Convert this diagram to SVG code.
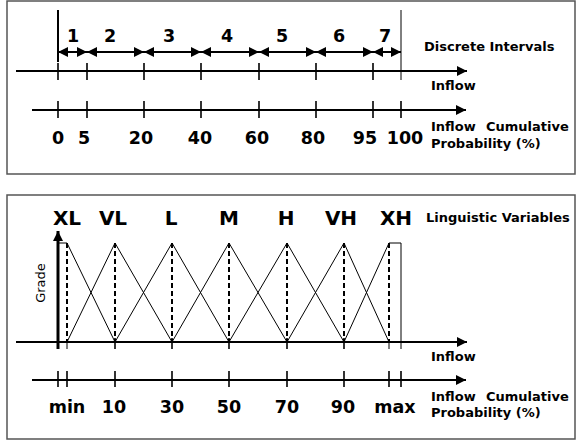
<svg xmlns="http://www.w3.org/2000/svg" width="577" height="442" viewBox="0 0 577 442">
  <style>
    .panel { fill: #fff; stroke: #555; stroke-width: 1.5; }
    .axis { stroke: #000; stroke-width: 2; fill: none; }
    .tick { stroke: #000; stroke-width: 1.6; }
    .thin { stroke: #000; stroke-width: 1; fill: none; }
    .dash { stroke: #000; stroke-width: 2; stroke-dasharray: 5 3; }
    .num { font-family: "DejaVu Sans", Verdana, sans-serif; font-weight: bold; font-size: 17.5px; text-anchor: middle; fill: #000; }
    .big { font-family: "DejaVu Sans", Verdana, sans-serif; font-weight: bold; font-size: 20px; text-anchor: middle; fill: #000; }
    .lbl { font-family: "DejaVu Sans", Verdana, sans-serif; font-weight: bold; font-size: 13px; fill: #000; }
    .grade { font-family: "DejaVu Sans", Verdana, sans-serif; font-size: 13px; text-anchor: middle; fill: #000; }
  </style>
  <defs>
    <marker id="head" viewBox="0 0 10 10" refX="10" refY="5" markerWidth="10" markerHeight="10" markerUnits="userSpaceOnUse" orient="auto-start-reverse">
      <path d="M0,0 L10,5 L0,10 Z" fill="#000"/>
    </marker>
    <marker id="ahead" viewBox="0 0 10 10" refX="10" refY="5" markerWidth="12" markerHeight="10" markerUnits="userSpaceOnUse" orient="auto">
      <path d="M0,0 L10,5 L0,10 Z" fill="#000"/>
    </marker>
  </defs>

  <!-- Upper panel: discrete intervals -->
  <g id="panel-intervals">
    <rect class="panel" x="7" y="1" width="568" height="173"/>
  </g>

  <g id="intervals-connectors">
    <!-- interval bounds -->
    <line class="axis" x1="58" y1="10" x2="58" y2="62"/>
    <line class="thin" x1="401" y1="10" x2="401" y2="80"/>
    <!-- double-headed interval arrows -->
    <line class="axis" x1="58" y1="52" x2="87" y2="52" marker-start="url(#head)" marker-end="url(#head)"/>
    <line class="axis" x1="87" y1="52" x2="144" y2="52" marker-start="url(#head)" marker-end="url(#head)"/>
    <line class="axis" x1="144" y1="52" x2="201" y2="52" marker-start="url(#head)" marker-end="url(#head)"/>
    <line class="axis" x1="201" y1="52" x2="259" y2="52" marker-start="url(#head)" marker-end="url(#head)"/>
    <line class="axis" x1="259" y1="52" x2="316" y2="52" marker-start="url(#head)" marker-end="url(#head)"/>
    <line class="axis" x1="316" y1="52" x2="373" y2="52" marker-start="url(#head)" marker-end="url(#head)"/>
    <line class="axis" x1="373" y1="52" x2="401" y2="52" marker-start="url(#head)" marker-end="url(#head)"/>
    <!-- inflow axis -->
    <line class="axis" x1="16" y1="71" x2="467" y2="71" marker-end="url(#ahead)"/>
    <g class="tick">
      <line x1="58" y1="63" x2="58" y2="80"/>
      <line x1="87" y1="63" x2="87" y2="80"/>
      <line x1="144" y1="63" x2="144" y2="80"/>
      <line x1="201" y1="63" x2="201" y2="80"/>
      <line x1="259" y1="63" x2="259" y2="80"/>
      <line x1="316" y1="63" x2="316" y2="80"/>
      <line x1="373" y1="63" x2="373" y2="80"/>
    </g>
    <!-- cumulative probability axis -->
    <line class="axis" x1="32" y1="110" x2="466" y2="110" marker-end="url(#ahead)"/>
    <g class="tick">
      <line x1="58" y1="101" x2="58" y2="118"/>
      <line x1="87" y1="101" x2="87" y2="118"/>
      <line x1="144" y1="101" x2="144" y2="118"/>
      <line x1="201" y1="101" x2="201" y2="118"/>
      <line x1="259" y1="101" x2="259" y2="118"/>
      <line x1="316" y1="101" x2="316" y2="118"/>
      <line x1="373" y1="101" x2="373" y2="118"/>
      <line x1="401" y1="101" x2="401" y2="118"/>
    </g>
  </g>

  <g id="intervals-text">
    <text class="num" x="73" y="42">1</text>
    <text class="num" x="110" y="42">2</text>
    <text class="num" x="169" y="42">3</text>
    <text class="num" x="227" y="42">4</text>
    <text class="num" x="282" y="42">5</text>
    <text class="num" x="339" y="42">6</text>
    <text class="num" x="385" y="42">7</text>
    <text class="lbl" x="424" y="51">Discrete Intervals</text>
    <text class="lbl" x="431" y="90">Inflow</text>
    <text class="lbl" x="431" y="131">Inflow<tspan x="486">Cumulative</tspan></text>
    <text class="lbl" x="431" y="148">Probability (%)</text>
    <text class="num" x="58" y="144">0</text>
    <text class="num" x="84" y="144">5</text>
    <text class="num" x="141" y="144">20</text>
    <text class="num" x="200" y="144">40</text>
    <text class="num" x="257" y="144">60</text>
    <text class="num" x="313" y="144">80</text>
    <text class="num" x="365" y="144">95</text>
    <text class="num" x="405" y="144">100</text>
  </g>

  <!-- Lower panel: fuzzy linguistic variables -->
  <g id="panel-fuzzy">
    <rect class="panel" x="7" y="195" width="568" height="244"/>
  </g>

  <g id="fuzzy-connectors">
    <!-- membership functions -->
    <polyline class="thin" points="58,243 67,243 115,342"/>
    <polyline class="thin" points="67,342 115,243 172,342"/>
    <polyline class="thin" points="115,342 172,243 229,342"/>
    <polyline class="thin" points="172,342 229,243 287,342"/>
    <polyline class="thin" points="229,342 287,243 344,342"/>
    <polyline class="thin" points="287,342 344,243 389,342"/>
    <polyline class="thin" points="344,342 389,243 401,243 401,349"/>
    <line class="thin" x1="67" y1="342" x2="67" y2="349"/>
    <line class="thin" x1="389" y1="342" x2="389" y2="349"/>
    <!-- peak markers -->
    <g class="dash">
      <line x1="67" y1="243" x2="67" y2="342"/>
      <line x1="115" y1="243" x2="115" y2="342"/>
      <line x1="172" y1="243" x2="172" y2="342"/>
      <line x1="229" y1="243" x2="229" y2="342"/>
      <line x1="287" y1="243" x2="287" y2="342"/>
      <line x1="344" y1="243" x2="344" y2="342"/>
      <line x1="389" y1="243" x2="389" y2="342"/>
    </g>
    <!-- grade axis -->
    <line stroke="#000" stroke-width="3" x1="58" y1="349" x2="58" y2="231" marker-end="url(#ahead)"/>
    <!-- inflow axis -->
    <line class="axis" x1="16" y1="342" x2="467" y2="342" marker-end="url(#ahead)"/>
    <g class="tick">
      <line x1="115" y1="338" x2="115" y2="349"/>
      <line x1="172" y1="338" x2="172" y2="349"/>
      <line x1="229" y1="338" x2="229" y2="349"/>
      <line x1="287" y1="338" x2="287" y2="349"/>
      <line x1="344" y1="338" x2="344" y2="349"/>
    </g>
    <!-- cumulative probability axis -->
    <line class="axis" x1="32" y1="380" x2="466" y2="380" marker-end="url(#ahead)"/>
    <g class="tick">
      <line x1="58" y1="371" x2="58" y2="387"/>
      <line x1="67" y1="371" x2="67" y2="387"/>
      <line x1="115" y1="371" x2="115" y2="387"/>
      <line x1="172" y1="371" x2="172" y2="387"/>
      <line x1="229" y1="371" x2="229" y2="387"/>
      <line x1="287" y1="371" x2="287" y2="387"/>
      <line x1="344" y1="371" x2="344" y2="387"/>
      <line x1="389" y1="371" x2="389" y2="387"/>
      <line x1="401" y1="371" x2="401" y2="387"/>
    </g>
  </g>

  <g id="fuzzy-text">
    <text class="big" x="67" y="225">XL</text>
    <text class="big" x="113" y="225">VL</text>
    <text class="big" x="171" y="225">L</text>
    <text class="big" x="229" y="225">M</text>
    <text class="big" x="286" y="225">H</text>
    <text class="big" x="341" y="225">VH</text>
    <text class="big" x="396" y="225">XH</text>
    <text class="lbl" x="426" y="222">Linguistic Variables</text>
    <text class="grade" transform="translate(45,283) rotate(-90)">Grade</text>
    <text class="lbl" x="431" y="361">Inflow</text>
    <text class="lbl" x="431" y="401">Inflow<tspan x="486">Cumulative</tspan></text>
    <text class="lbl" x="431" y="417">Probability (%)</text>
    <text class="num" x="67" y="413">min</text>
    <text class="num" x="114" y="413">10</text>
    <text class="num" x="172" y="413">30</text>
    <text class="num" x="229" y="413">50</text>
    <text class="num" x="287" y="413">70</text>
    <text class="num" x="343" y="413">90</text>
    <text class="num" x="395" y="413">max</text>
  </g>
</svg>
